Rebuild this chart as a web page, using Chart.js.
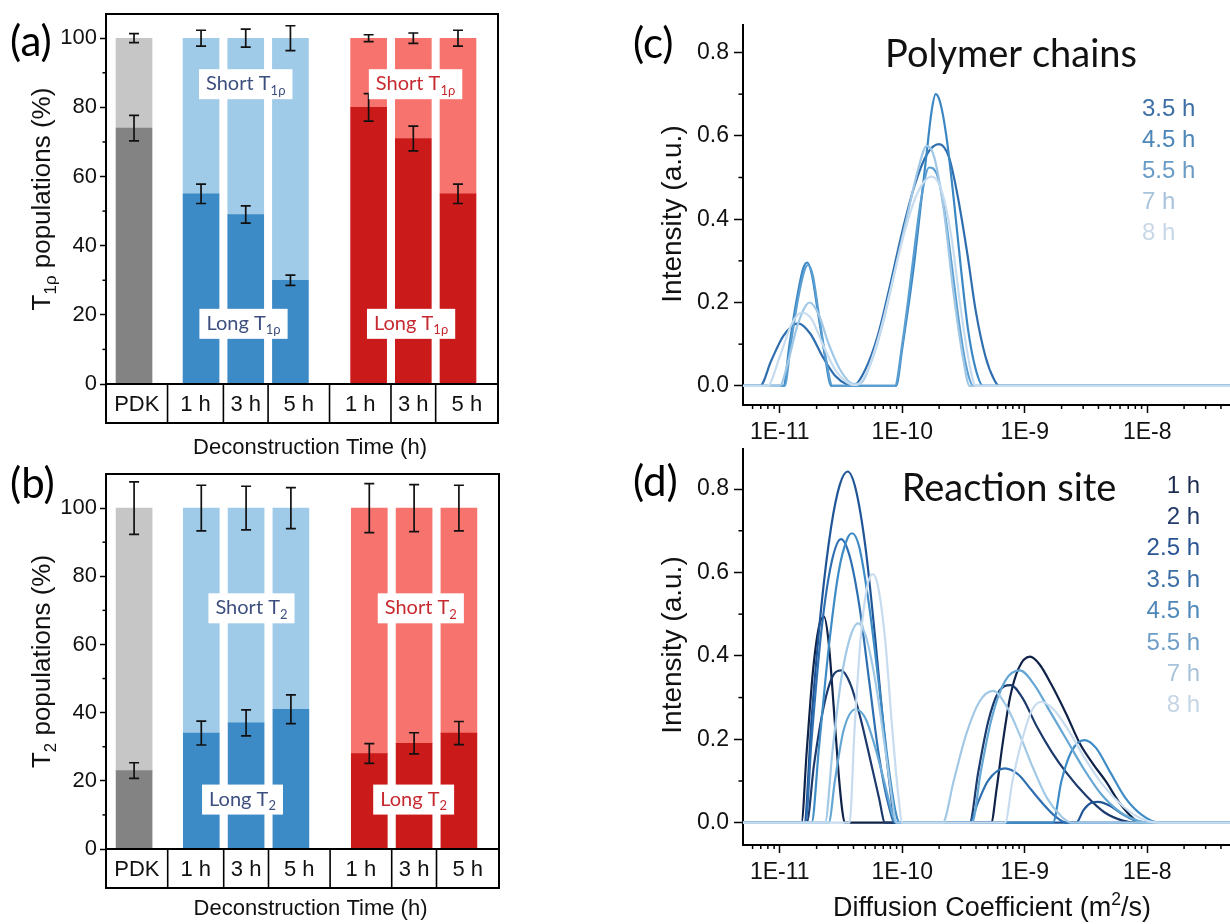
<!DOCTYPE html>
<html>
<head>
<meta charset="utf-8">
<script src="https://cdn.jsdelivr.net/npm/chart.js@4.4.1/dist/chart.umd.min.js"></script>
<style>
  html, body { margin: 0; padding: 0; background: #fff; }
  #wrap { position: relative; width: 1230px; height: 924px; overflow: hidden; }
  canvas { position: absolute; }
</style>
</head>
<body>
<div id="wrap">
  <canvas id="cA" width="620" height="460" style="left:0px;top:0px"></canvas>
  <canvas id="cB" width="620" height="464" style="left:0px;top:460px"></canvas>
  <canvas id="cC" width="610" height="460" style="left:620px;top:0px"></canvas>
  <canvas id="cD" width="610" height="484" style="left:620px;top:440px"></canvas>
</div>
<script>
// ---- bar panels (a) and (b) ----
const barLabels = ['PDK', '1 h', '3 h', '5 h', '1 h', '3 h', '5 h'];
const barX = [1, 2.5, 3.5, 4.5, 6.25, 7.25, 8.25];
const longColors = ['#838383', '#3c8bc7', '#3c8bc7', '#3c8bc7', '#cb1a1a', '#cb1a1a', '#cb1a1a'];
const shortColors = ['#c6c6c6', '#9fcae8', '#9fcae8', '#9fcae8', '#f7746e', '#f7746e', '#f7746e'];

const t1LongPop = [74, 55, 49, 30, 80, 71, 55];
const t1ShortPop = [26, 45, 51, 70, 20, 29, 45];
const t1LongErr = [3.7, 2.8, 2.5, 1.5, 4.0, 3.6, 2.8];
const t1TotalErr = [1.3, 2.3, 2.6, 3.6, 1.0, 1.5, 2.3];

const t2LongPop = [23, 34, 37, 41, 28, 31, 34];
const t2ShortPop = [77, 66, 63, 59, 72, 69, 66];
const t2LongErr = [2.3, 3.5, 3.8, 4.2, 2.9, 3.1, 3.4];
const t2TotalErr = [7.7, 6.7, 6.4, 6.0, 7.2, 6.9, 6.7];

const barYTicks = [0, 20, 40, 60, 80, 100];
const barYMinor = [10, 30, 50, 70, 90];

// ---- diffusion panels (c) and (d), x values are log10(D) ----
const cTimes = ['3.5 h', '4.5 h', '5.5 h', '7 h', '8 h'];
const cLogD_35 = [-11.3, -11.16, -11.07, -10.97, -10.85, -10.75, -10.65, -10.55, -10.45, -10.40, -10.30, -10.20, -10.10, -10.00, -9.90, -9.80, -9.70, -9.62, -9.55, -9.47, -9.40, -9.32, -9.25, -9.21, -7.3];
const cInt_35  = [0, 0, 0.06, 0.12, 0.15, 0.125, 0.07, 0.025, 0.003, 0, 0.04, 0.12, 0.24, 0.37, 0.48, 0.555, 0.58, 0.55, 0.46, 0.32, 0.18, 0.07, 0.015, 0, 0];
const cLogD_45 = [-11.3, -10.97, -10.92, -10.86, -10.81, -10.777, -10.74, -10.69, -10.63, -10.58, -10.05, -10.00, -9.95, -9.90, -9.85, -9.80, -9.76, -9.727, -9.69, -9.64, -9.58, -9.52, -9.46, -9.40, -9.34, -7.3];
const cInt_45  = [0, 0, 0.10, 0.21, 0.28, 0.296, 0.27, 0.18, 0.07, 0, 0, 0.09, 0.19, 0.30, 0.43, 0.56, 0.66, 0.70, 0.68, 0.60, 0.45, 0.28, 0.13, 0.04, 0, 0];
const cLogD_55 = [-11.3, -10.96, -10.91, -10.85, -10.80, -10.77, -10.73, -10.68, -10.62, -10.57, -10.06, -10.00, -9.95, -9.90, -9.85, -9.781, -9.72, -9.66, -9.60, -9.54, -9.48, -9.42, -7.3];
const cInt_55  = [0, 0, 0.10, 0.21, 0.275, 0.29, 0.265, 0.17, 0.06, 0, 0, 0.10, 0.21, 0.33, 0.44, 0.524, 0.51, 0.43, 0.30, 0.16, 0.05, 0, 0];
const cLogD_7  = [-11.3, -11.0, -10.93, -10.85, -10.755, -10.68, -10.60, -10.50, -10.40, -10.35, -10.25, -10.15, -10.05, -9.95, -9.87, -9.80, -9.74, -9.66, -9.58, -9.50, -9.45, -7.3];
const cInt_7   = [0, 0, 0.06, 0.15, 0.20, 0.17, 0.10, 0.035, 0.005, 0.005, 0.06, 0.16, 0.29, 0.42, 0.52, 0.576, 0.55, 0.42, 0.22, 0.06, 0, 0];
const cLogD_8  = [-11.3, -11.10, -11.0, -10.9, -10.82, -10.74, -10.65, -10.55, -10.45, -10.38, -10.28, -10.18, -10.08, -9.98, -9.88, -9.76, -9.68, -9.60, -9.52, -9.45, -9.40, -7.3];
const cInt_8   = [0, 0, 0.07, 0.15, 0.176, 0.16, 0.10, 0.04, 0.008, 0.002, 0.04, 0.13, 0.25, 0.37, 0.46, 0.502, 0.47, 0.36, 0.18, 0.05, 0, 0];
const cLineColors = ['#2f6eae', '#3b87c4', '#5b9fd2', '#a0c8e6', '#c7dcef'];
const cLegendColors = ['#3d6ea4', '#4c86b8', '#6b9cc6', '#a8c4dc', '#c8d7e7'];

const dTimes = ['1 h', '2 h', '2.5 h', '3.5 h', '4.5 h', '5.5 h', '7 h', '8 h'];
const dLogD_1  = [-11.3, -10.823, -10.78, -10.73, -10.68, -10.638, -10.60, -10.56, -10.52, -10.49, -10.47, -9.274, -9.23, -9.18, -9.12, -9.05, -8.957, -8.88, -8.78, -8.66, -8.55, -8.44, -8.34, -8.22, -8.12, -8.05, -7.3];
const dInt_1   = [0, 0, 0.17, 0.36, 0.47, 0.494, 0.43, 0.28, 0.12, 0.03, 0, 0, 0.08, 0.19, 0.30, 0.37, 0.398, 0.38, 0.33, 0.26, 0.19, 0.14, 0.10, 0.045, 0.012, 0, 0];
const dLogD_2  = [-11.3, -10.78, -10.72, -10.64, -10.57, -10.50, -10.42, -10.34, -10.26, -10.19, -10.14, -9.45, -9.38, -9.30, -9.22, -9.115, -9.02, -8.90, -8.78, -8.66, -8.50, -8.35, -8.20, -8.09, -7.3];
const dInt_2   = [0, 0, 0.14, 0.28, 0.35, 0.365, 0.33, 0.25, 0.15, 0.06, 0, 0, 0.12, 0.24, 0.31, 0.33, 0.30, 0.23, 0.17, 0.12, 0.065, 0.025, 0.005, 0, 0];
const dLogD_25 = [-11.3, -10.80, -10.74, -10.66, -10.58, -10.51, -10.446, -10.38, -10.30, -10.22, -10.15, -10.09, -10.06, -8.58, -8.52, -8.46, -8.40, -8.30, -8.20, -8.10, -8.05, -7.3];
const dInt_25  = [0, 0, 0.25, 0.52, 0.71, 0.81, 0.842, 0.80, 0.66, 0.44, 0.22, 0.06, 0, 0, 0.03, 0.047, 0.05, 0.04, 0.02, 0.005, 0, 0];
const dLogD_35 = [-11.3, -10.79, -10.74, -10.66, -10.58, -10.50, -10.43, -10.35, -10.27, -10.19, -10.11, -10.06, -9.45, -9.38, -9.30, -9.163, -9.05, -8.95, -8.85, -8.75, -8.66, -7.3];
const dInt_35  = [0, 0, 0.20, 0.46, 0.62, 0.68, 0.64, 0.52, 0.34, 0.16, 0.04, 0, 0, 0.05, 0.10, 0.13, 0.115, 0.08, 0.045, 0.015, 0, 0];
const dLogD_45 = [-11.3, -10.74, -10.68, -10.60, -10.52, -10.45, -10.41, -10.35, -10.27, -10.19, -10.11, -10.05, -10.02, -8.77, -8.70, -8.62, -8.513, -8.42, -8.30, -8.18, -8.05, -7.90, -7.3];
const dInt_45  = [0, 0, 0.18, 0.42, 0.60, 0.68, 0.694, 0.66, 0.52, 0.33, 0.13, 0.02, 0, 0, 0.10, 0.17, 0.198, 0.18, 0.12, 0.06, 0.02, 0, 0];
const dLogD_55 = [-11.3, -10.60, -10.55, -10.48, -10.38, -10.30, -10.22, -10.14, -10.08, -10.05, -9.43, -9.36, -9.27, -9.16, -9.04, -8.92, -8.80, -8.66, -8.52, -8.38, -8.22, -8.08, -7.99, -7.3];
const dInt_55  = [0, 0, 0.10, 0.22, 0.272, 0.25, 0.18, 0.09, 0.02, 0, 0, 0.12, 0.25, 0.34, 0.365, 0.33, 0.27, 0.20, 0.13, 0.07, 0.025, 0.005, 0, 0];
const dLogD_7  = [-11.3, -10.63, -10.57, -10.50, -10.43, -10.36, -10.30, -10.22, -10.14, -10.08, -10.05, -9.67, -9.58, -9.48, -9.37, -9.258, -9.15, -9.04, -8.93, -8.82, -8.70, -8.62, -7.3];
const dInt_7   = [0, 0, 0.17, 0.34, 0.44, 0.478, 0.45, 0.34, 0.18, 0.05, 0, 0, 0.10, 0.21, 0.29, 0.316, 0.28, 0.21, 0.13, 0.06, 0.015, 0, 0];
const dLogD_8  = [-11.3, -10.43, -10.39, -10.34, -10.29, -10.243, -10.20, -10.14, -10.08, -10.03, -10.0, -9.16, -9.10, -9.02, -8.94, -8.862, -8.76, -8.64, -8.50, -8.36, -8.20, -8.05, -7.90, -7.3];
const dInt_8   = [0, 0, 0.22, 0.44, 0.56, 0.596, 0.57, 0.44, 0.22, 0.06, 0, 0, 0.10, 0.20, 0.27, 0.29, 0.27, 0.22, 0.15, 0.09, 0.04, 0.01, 0, 0];
const dLineColors = ['#0f2247', '#1c3a6c', '#1f5597', '#2d6fb1', '#3e8bc5', '#64a6d4', '#a1c9e6', '#c8dcef'];
const dLegendColors = ['#1e2d4f', '#243b69', '#2b5592', '#3b6ea5', '#4f87b8', '#6f9ec6', '#a8c3da', '#c6d5e5'];

const xTickVals = [1e-11, 1e-10, 1e-9, 1e-8];
const xTickLabels = ['1E-11', '1E-10', '1E-9', '1E-8'];
const lineYTicks = [0, 0.2, 0.4, 0.6, 0.8];
const lineYMinor = [0.1, 0.3, 0.5, 0.7];

const SANS = "'Liberation Sans', Arial, sans-serif";
const CAL = "Lato, 'Open Sans', 'Noto Sans', sans-serif";
Chart.defaults.font.family = SANS;
Chart.defaults.color = '#1a1a1a';
Chart.defaults.animation = false;

// text runs with sub/superscripts
function runsWidth(ctx, runs, size, family) {
  let w = 0;
  runs.forEach(r => {
    ctx.font = `${(r.sub || r.sup) ? size * 0.65 : size}px ${family}`;
    w += ctx.measureText(r.t).width;
  });
  return w;
}
function drawRuns(ctx, runs, x, y, size, family, color, align) {
  const total = runsWidth(ctx, runs, size, family);
  let cx = align === 'center' ? x - total / 2 : (align === 'right' ? x - total : x);
  ctx.fillStyle = color;
  ctx.textAlign = 'left';
  ctx.textBaseline = 'alphabetic';
  runs.forEach(r => {
    const s = (r.sub || r.sup) ? size * 0.65 : size;
    ctx.font = `${s}px ${family}`;
    const dy = r.sub ? size * 0.22 : (r.sup ? -size * 0.4 : 0);
    ctx.fillText(r.t, cx, y + dy);
    cx += ctx.measureText(r.t).width;
  });
}

function barPanel(id, o) {
  const deco = {
    id: 'deco',
    afterDatasetsDraw(chart) {
      const { ctx, chartArea: a, scales: { x, y } } = chart;
      ctx.save();
      // error bars
      ctx.strokeStyle = '#111';
      ctx.lineWidth = 1.7;
      barX.forEach((bx, i) => {
        const px = x.getPixelForValue(bx);
        [[o.long[i], o.longErr[i]], [o.long[i] + o.short[i], o.totalErr[i]]].forEach(([v, e]) => {
          const y1 = y.getPixelForValue(v - e), y2 = y.getPixelForValue(v + e);
          ctx.beginPath();
          ctx.moveTo(px, y1); ctx.lineTo(px, y2);
          ctx.moveTo(px - 5, y1); ctx.lineTo(px + 5, y1);
          ctx.moveTo(px - 5, y2); ctx.lineTo(px + 5, y2);
          ctx.stroke();
        });
      });
      // white label boxes
      o.notes.forEach(n => {
        const size = 20;
        const w = runsWidth(ctx, n.runs, size, CAL) + 14;
        const h = 30;
        const cx = x.getPixelForValue(n.x), cy = y.getPixelForValue(n.y);
        ctx.fillStyle = '#fff';
        ctx.fillRect(cx - w / 2, cy - h / 2, w, h);
        drawRuns(ctx, n.runs, cx, cy + 6, size, CAL, n.color, 'center');
      });
      // frame
      ctx.strokeStyle = '#000';
      ctx.lineWidth = 2;
      ctx.strokeRect(a.left, a.top, a.right - a.left, a.bottom - a.top);
      // category table under the plot
      const th = 39;
      ctx.strokeRect(a.left, a.bottom, a.right - a.left, th);
      const edges = [a.left];
      for (let i = 0; i < barX.length - 1; i++) edges.push(x.getPixelForValue((barX[i] + barX[i + 1]) / 2));
      edges.push(a.right);
      ctx.lineWidth = 1.6;
      edges.slice(1, -1).forEach(ex => {
        ctx.beginPath(); ctx.moveTo(ex, a.bottom); ctx.lineTo(ex, a.bottom + th); ctx.stroke();
      });
      ctx.font = `22px ${SANS}`;
      ctx.fillStyle = '#111';
      ctx.textAlign = 'center';
      ctx.textBaseline = 'middle';
      barLabels.forEach((t, i) => ctx.fillText(t, (edges[i] + edges[i + 1]) / 2, a.bottom + th / 2 + 1));
      // minor ticks
      ctx.lineWidth = 1.5;
      barYMinor.forEach(v => {
        const py = y.getPixelForValue(v);
        ctx.beginPath(); ctx.moveTo(a.left - 3.5, py); ctx.lineTo(a.left, py); ctx.stroke();
      });
      // axis titles
      drawRuns(ctx, [{ t: 'Deconstruction Time (h)' }], (a.left + a.right) / 2 + 8, o.xTitleY, 22, SANS, '#111', 'center');
      ctx.save();
      ctx.translate(41, (a.top + a.bottom) / 2);
      ctx.rotate(-Math.PI / 2);
      drawRuns(ctx, o.yTitle, 0, 9, 26, SANS, '#111', 'center');
      ctx.restore();
      // panel letter
      ctx.font = `42px ${CAL}`;
      ctx.fillStyle = '#000';
      ctx.textAlign = 'left';
      ctx.textBaseline = 'middle';
      ctx.fillText(o.letter, 10, o.letterY);
      ctx.restore();
    }
  };

  new Chart(document.getElementById(id), {
    type: 'bar',
    data: {
      datasets: [
        { label: 'Long', data: barX.map((bx, i) => ({ x: bx, y: o.long[i] })), backgroundColor: longColors },
        { label: 'Short', data: barX.map((bx, i) => ({ x: bx, y: o.short[i] })), backgroundColor: shortColors }
      ]
    },
    options: {
      responsive: false,
      devicePixelRatio: 1,
      barThickness: 36,
      layout: { padding: o.pad },
      plugins: { legend: { display: false }, tooltip: { enabled: false } },
      scales: {
        x: { type: 'linear', min: 0.373, max: 9.145, offset: false, stacked: true, display: false },
        y: {
          stacked: true, min: 0, max: o.yMax,
          afterBuildTicks: s => { s.ticks = barYTicks.map(v => ({ value: v })); },
          afterFit: s => { s.width = 106; s.paddingTop = 0; s.paddingBottom = 0; },
          ticks: { padding: 3, font: { size: 22 }, color: '#111' },
          grid: { drawOnChartArea: false, tickLength: 6, tickWidth: 1.5, color: '#000' },
          border: { display: false }
        }
      }
    },
    plugins: [deco]
  });
}

function linePanel(id, o) {
  const deco = {
    id: 'deco',
    afterDatasetsDraw(chart) {
      const { ctx, chartArea: a, scales: { x, y } } = chart;
      ctx.save();
      ctx.strokeStyle = '#000';
      ctx.lineWidth = 1.5;
      // minor ticks
      lineYMinor.forEach(v => {
        const py = y.getPixelForValue(v);
        ctx.beginPath(); ctx.moveTo(a.left - 4.5, py); ctx.lineTo(a.left, py); ctx.stroke();
      });
      for (let e = -12; e <= -8; e++) {
        for (let k = 2; k <= 9; k++) {
          const v = k * Math.pow(10, e);
          if (v < x.min || v > x.max) continue;
          const px = x.getPixelForValue(v);
          ctx.beginPath(); ctx.moveTo(px, a.bottom); ctx.lineTo(px, a.bottom + 4); ctx.stroke();
        }
      }
      // header text
      ctx.font = `38px ${CAL}`;
      ctx.fillStyle = '#111';
      ctx.textAlign = 'center';
      ctx.textBaseline = 'alphabetic';
      ctx.fillText(o.title, o.titleX, o.titleY);
      // legend
      ctx.font = `24px ${SANS}`;
      ctx.textAlign = o.legendAlign;
      ctx.textBaseline = 'middle';
      chart.data.datasets.forEach((ds, i) => {
        ctx.fillStyle = o.legendColors[i];
        ctx.fillText(ds.label, o.legendX, o.legendY + i * o.legendStep);
      });
      // axis titles
      ctx.save();
      ctx.translate(51, o.yTitleY);
      ctx.rotate(-Math.PI / 2);
      drawRuns(ctx, [{ t: 'Intensity (a.u.)' }], 0, 10, 28, SANS, '#111', 'center');
      ctx.restore();
      if (o.xTitle) drawRuns(ctx, o.xTitle, o.xTitleX, o.xTitleY, 27, SANS, '#111', 'center');
      // panel letter
      ctx.font = `42px ${CAL}`;
      ctx.fillStyle = '#000';
      ctx.textAlign = 'left';
      ctx.textBaseline = 'middle';
      ctx.fillText(o.letter, 13, o.letterY);
      ctx.restore();
    }
  };

  const n = o.curves.length;
  new Chart(document.getElementById(id), {
    type: 'line',
    data: {
      datasets: o.curves.map((c, i) => ({
        label: c.label,
        data: c.logD.map((v, k) => ({ x: Math.pow(10, v), y: c.I[k] })),
        borderColor: c.color,
        borderWidth: 2.2,
        pointRadius: 0,
        cubicInterpolationMode: 'monotone',
        order: n - i
      }))
    },
    options: {
      responsive: false,
      devicePixelRatio: 1,
      layout: { padding: o.pad },
      plugins: { legend: { display: false }, tooltip: { enabled: false } },
      scales: {
        x: {
          type: 'logarithmic', min: Math.pow(10, -11.3), max: Math.pow(10, -7.324),
          afterBuildTicks: s => { s.ticks = xTickVals.map(v => ({ value: v })); },
          afterFit: s => { s.height = o.xH; s.paddingLeft = 0; s.paddingRight = 0; },
          ticks: { autoSkip: false, maxRotation: 0, padding: 6, font: { size: 23 }, color: '#111',
                   callback: (v, i) => xTickLabels[i] },
          grid: { drawOnChartArea: false, tickLength: 8, tickWidth: 1.5, color: '#000' },
          border: { color: '#000', width: 2 }
        },
        y: {
          min: o.yMin, max: o.yMax,
          afterBuildTicks: s => { s.ticks = lineYTicks.map(v => ({ value: v })); },
          afterFit: s => { s.width = 123; s.paddingTop = 0; s.paddingBottom = 0; },
          ticks: { padding: 5, font: { size: 23 }, color: '#111', callback: v => v.toFixed(1) },
          grid: { drawOnChartArea: false, tickLength: 9, tickWidth: 1.5, color: '#000' },
          border: { color: '#000', width: 2 }
        }
      }
    },
    plugins: [deco]
  });
}

barPanel('cA', {
  long: t1LongPop, short: t1ShortPop, longErr: t1LongErr, totalErr: t1TotalErr,
  yMax: 107, pad: { left: 0, top: 14, right: 122, bottom: 76 },
  xTitleY: 454, letter: '(a)', letterY: 42,
  yTitle: [{ t: 'T' }, { t: '1ρ', sub: true }, { t: ' populations (%)' }],
  notes: [
    { x: 3.5, y: 86.7, color: '#3d4f7f', runs: [{ t: 'Short T' }, { t: '1ρ', sub: true }] },
    { x: 7.3, y: 86.7, color: '#c62a30', runs: [{ t: 'Short T' }, { t: '1ρ', sub: true }] },
    { x: 3.45, y: 17.4, color: '#3d4f7f', runs: [{ t: 'Long T' }, { t: '1ρ', sub: true }] },
    { x: 7.2, y: 17.4, color: '#c62a30', runs: [{ t: 'Long T' }, { t: '1ρ', sub: true }] }
  ]
});

barPanel('cB', {
  long: t2LongPop, short: t2ShortPop, longErr: t2LongErr, totalErr: t2TotalErr,
  yMax: 110, pad: { left: 0, top: 14, right: 121, bottom: 75 },
  xTitleY: 455, letter: '(b)', letterY: 24,
  yTitle: [{ t: 'T' }, { t: '2', sub: true }, { t: ' populations (%)' }],
  notes: [
    { x: 3.62, y: 70.6, color: '#3d4f7f', runs: [{ t: 'Short T' }, { t: '2', sub: true }] },
    { x: 7.4, y: 70.6, color: '#c62a30', runs: [{ t: 'Short T' }, { t: '2', sub: true }] },
    { x: 3.42, y: 14.5, color: '#3d4f7f', runs: [{ t: 'Long T' }, { t: '2', sub: true }] },
    { x: 7.24, y: 14.5, color: '#c62a30', runs: [{ t: 'Long T' }, { t: '2', sub: true }] }
  ]
});

linePanel('cC', {
  curves: [
    { label: cTimes[0], logD: cLogD_35, I: cInt_35, color: cLineColors[0] },
    { label: cTimes[1], logD: cLogD_45, I: cInt_45, color: cLineColors[1] },
    { label: cTimes[2], logD: cLogD_55, I: cInt_55, color: cLineColors[2] },
    { label: cTimes[3], logD: cLogD_7, I: cInt_7, color: cLineColors[3] },
    { label: cTimes[4], logD: cLogD_8, I: cInt_8, color: cLineColors[4] }
  ],
  legendColors: cLegendColors, legendAlign: 'left', legendX: 522, legendY: 109, legendStep: 31,
  title: 'Polymer chains', titleX: 391, titleY: 67,
  yMin: -0.046, yMax: 0.866, pad: { left: 0, top: 25, right: 0, bottom: 0 }, xH: 55,
  yTitleY: 214, letter: '(c)', letterY: 44
});

linePanel('cD', {
  curves: [
    { label: dTimes[0], logD: dLogD_1, I: dInt_1, color: dLineColors[0] },
    { label: dTimes[1], logD: dLogD_2, I: dInt_2, color: dLineColors[1] },
    { label: dTimes[2], logD: dLogD_25, I: dInt_25, color: dLineColors[2] },
    { label: dTimes[3], logD: dLogD_35, I: dInt_35, color: dLineColors[3] },
    { label: dTimes[4], logD: dLogD_45, I: dInt_45, color: dLineColors[4] },
    { label: dTimes[5], logD: dLogD_55, I: dInt_55, color: dLineColors[5] },
    { label: dTimes[6], logD: dLogD_7, I: dInt_7, color: dLineColors[6] },
    { label: dTimes[7], logD: dLogD_8, I: dInt_8, color: dLineColors[7] }
  ],
  legendColors: dLegendColors, legendAlign: 'right', legendX: 580, legendY: 46, legendStep: 31.4,
  title: 'Reaction site', titleX: 389, titleY: 61,
  yMin: -0.0535, yMax: 0.896, pad: { left: 0, top: 9, right: 0, bottom: 0 }, xH: 79,
  yTitleY: 205, letter: '(d)', letterY: 42,
  xTitle: [{ t: 'Diffusion Coefficient (m' }, { t: '2', sup: true }, { t: '/s)' }], xTitleX: 372, xTitleY: 476
});
</script>
</body>
</html>
